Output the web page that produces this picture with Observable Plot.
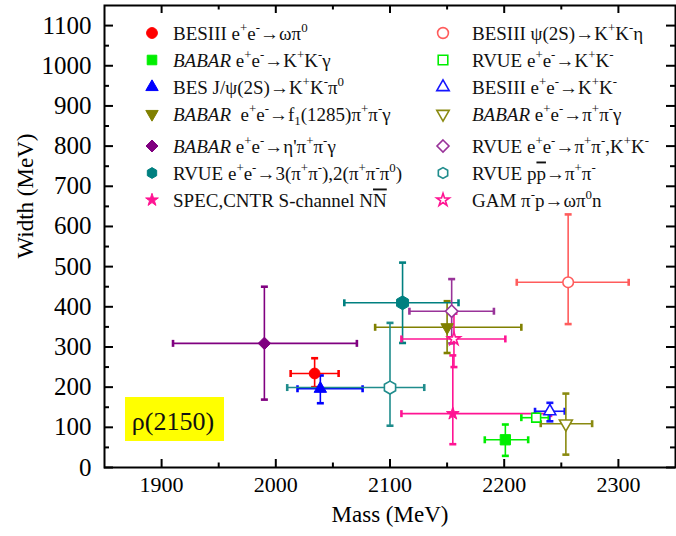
<!DOCTYPE html>
<html><head><meta charset="utf-8">
<script src="https://cdn.jsdelivr.net/npm/d3@7"></script>
<script src="https://cdn.jsdelivr.net/npm/@observablehq/plot@0.6"></script>
<style>
body{margin:0;background:#fff;}
#chart{position:relative;width:676px;height:536px;}
</style>
</head><body><div id="chart"></div>
<script>
// ---- data ----
const labels = [
  "BESIII e^{+}e^{-}→ωπ^{0}",
  "*BABAR* e^{+}e^{-}→K^{+}K^{-}γ",
  "BES J/ψ(2S)→K^{+}K^{-}π^{0}",
  "*BABAR*  e^{+}e^{-}→f_{1}(1285)π^{+}π^{-}γ",
  "*BABAR* e^{+}e^{-}→η'π^{+}π^{-}γ",
  "RVUE e^{+}e^{-}→3(π^{+}π^{-}),2(π^{+}π^{-}π^{0})",
  "SPEC,CNTR S-channel N~N~",
  "BESIII ψ(2S)→K^{+}K^{-}η",
  "RVUE e^{+}e^{-}→K^{+}K^{-}",
  "BESIII e^{+}e^{-}→K^{+}K^{-}",
  "*BABAR* e^{+}e^{-}→π^{+}π^{-}γ",
  "RVUE e^{+}e^{-}→π^{+}π^{-},K^{+}K^{-}",
  "RVUE p~p~→π^{+}π^{-}",
  "GAM π^{-}p→ωπ^{0}n"
];
const mass    = [2034, 2201, 2039, 2150, 1990, 2111, 2155, 2256, 2228, 2240, 2254, 2154, 2100, 2156];
const width   = [ 234,   69,  196,  349,  309,  410,  134,  461,  124,  140,  109,  389,  199,  320];
const massLo  = [2013, 2183, 2019, 2087, 1910, 2060, 2110, 2211, 2215, 2227, 2232, 2117, 2010, 2110];
const massHi  = [2055, 2221, 2076, 2215, 2071, 2160, 2241, 2309, 2239, 2253, 2277, 2191, 2130, 2201];
const widthLo = [ 200,   29,  160,  285,  169,  310,   58,  357,  114,  115,   32,  309,  104,  250];
const widthHi = [ 272,  107,  229,  414,  450,  510,  279,  630,  134,  161,  184,  469,  360,  383];

// styles
const symbols = ["circle","square","triangle","triangle","diamond2","hexagon","star",
                 "circle","square","triangle","triangle","diamond2","hexagon","star"];
const flipped = [false,false,false,true,false,false,false, false,false,false,true,false,false,false];
const filled  = [true,true,true,true,true,true,true, false,false,false,false,false,false,false];
const colors  = ["#ff0000","#00ee00","#0000ff","#808000","#800080","#008080","#ff1493",
                 "#ff5c5c","#00ee00","#1515ff","#8a8a10","#993399","#1f8c8c","#ff1493"];
const radii   = [5.4, 5.8, 4.6, 4.6, 5.6, 6.0, 4.0, 5.3, 5.0, 4.4, 4.8, 5.6, 5.6, 4.0];

const xDomain = [1850, 2350];
const yDomain = [0, 1150];
const xMajor = [1900, 2000, 2100, 2200, 2300];
const xMinor = [1950, 2050, 2150, 2250];
const yMajor = [0, 100, 200, 300, 400, 500, 600, 700, 800, 900, 1000, 1100];
const yMinor = [50, 150, 250, 350, 450, 550, 650, 750, 850, 950, 1050];
const xTitle = "Mass (MeV)";
const yTitle = "Width (MeV)";
const tag = "ρ(2150)";

const serif = "'Liberation Serif','Times New Roman',serif";

// ---- marks ----
const vcap = {draw(ctx){ ctx.moveTo(0,-3.5); ctx.lineTo(0,3.5); }};
const hcap = {draw(ctx){ ctx.moveTo(-3.5,0); ctx.lineTo(3.5,0); }};

const errMarks = [], dotMarks = [];
for (let i = 0; i < labels.length; i++) {
  const d = [{m: mass[i], w: width[i], mlo: massLo[i], mhi: massHi[i], wlo: widthLo[i], whi: widthHi[i]}];
  const c = colors[i];
  errMarks.push(
    Plot.ruleY(d, {y: "w", x1: "mlo", x2: "mhi", stroke: c, strokeWidth: 1.6}),
    Plot.ruleX(d, {x: "m", y1: "wlo", y2: "whi", stroke: c, strokeWidth: 1.6}),
    Plot.dot([[massLo[i], width[i]], [massHi[i], width[i]]], {x: p => p[0], y: p => p[1], symbol: vcap, stroke: c, strokeWidth: 2.6, fill: "none"}),
    Plot.dot([[mass[i], widthLo[i]], [mass[i], widthHi[i]]], {x: p => p[0], y: p => p[1], symbol: hcap, stroke: c, strokeWidth: 2.6, fill: "none"})
  );
  dotMarks.push(
    Plot.dot(d, {x: "m", y: "w", symbol: symbols[i], r: radii[i],
      rotate: flipped[i] ? 180 : 0,
      fill: filled[i] ? c : "white", stroke: c, strokeWidth: filled[i] ? 1 : 1.6})
  );
}

const tickStyle = {stroke: "black", strokeWidth: 2};
const plot = Plot.plot({
  width: 676, height: 536,
  marginLeft: 104, marginRight: 1, marginTop: 5, marginBottom: 69,
  style: {fontFamily: serif, background: "white", overflow: "visible"},
  x: {domain: xDomain, label: null},
  y: {domain: yDomain, label: null},
  marks: [
    ...errMarks,
    ...dotMarks,
    // inward ticks on all four sides
    Plot.ruleX(xMajor, {x: d => d, y1: yDomain[0], y2: yDomain[0], insetBottom: 8, ...tickStyle}),
    Plot.ruleX(xMinor, {x: d => d, y1: yDomain[0], y2: yDomain[0], insetBottom: 4.5, ...tickStyle}),
    Plot.ruleX(xMajor, {x: d => d, y1: yDomain[1], y2: yDomain[1], insetBottom: -8, ...tickStyle}),
    Plot.ruleX(xMinor, {x: d => d, y1: yDomain[1], y2: yDomain[1], insetBottom: -4.5, ...tickStyle}),
    Plot.ruleY(yMajor, {y: d => d, x1: xDomain[0], x2: xDomain[0], insetRight: -9, ...tickStyle}),
    Plot.ruleY(yMinor, {y: d => d, x1: xDomain[0], x2: xDomain[0], insetRight: -5, ...tickStyle}),
    Plot.ruleY(yMajor, {y: d => d, x1: xDomain[1], x2: xDomain[1], insetRight: 9, ...tickStyle}),
    Plot.ruleY(yMinor, {y: d => d, x1: xDomain[1], x2: xDomain[1], insetRight: 5, ...tickStyle}),
    Plot.axisX({ticks: xMajor, tickSize: 0, tickPadding: 9, fontSize: 22, label: null, tickFormat: d => String(d)}),
    Plot.axisY({ticks: yMajor, tickSize: 0, tickPadding: 13, fontSize: 25, label: null, tickFormat: d => String(d)}),
    Plot.frame({stroke: "black", strokeWidth: 2}),
    Plot.text([xTitle], {text: d => d, frameAnchor: "bottom", dy: 54, fontSize: 23}),
    Plot.text([yTitle], {text: d => d, frameAnchor: "left", dx: -79, dy: 22, rotate: -90, fontSize: 23})
  ]
});
document.getElementById("chart").appendChild(plot);

// ---- legend & annotation (drawn into the same svg) ----
const svg = d3.select(plot);
const hexagon = {draw(ctx, size){ const rx = Math.sqrt(size/Math.PI), ry = rx*Math.sqrt(3)/2;
  ctx.moveTo(0,rx); ctx.lineTo(ry,rx/2); ctx.lineTo(ry,-rx/2); ctx.lineTo(0,-rx); ctx.lineTo(-ry,-rx/2); ctx.lineTo(-ry,rx/2); ctx.closePath(); }};
const symMap = {circle: d3.symbolCircle, square: d3.symbolSquare, triangle: d3.symbolTriangle,
                diamond2: d3.symbolDiamond2, hexagon: hexagon, star: d3.symbolStar};

function richText(el, str, fs) {
  const re = /\^\{([^}]*)\}|_\{([^}]*)\}|\*([^*]*)\*|~([^~]*)~|([^\^_*~]+)/g;
  let cur = 0, m;
  while ((m = re.exec(str))) {
    const ts = el.append("tspan");
    let target = 0;
    if (m[1] !== undefined) { target = -0.4*fs; ts.text(m[1]).attr("font-size", fs*0.68); }
    else if (m[2] !== undefined) { target = 0.22*fs; ts.text(m[2]).attr("font-size", fs*0.68); }
    else if (m[3] !== undefined) { ts.text(m[3]).attr("font-style", "italic"); }
    else if (m[4] !== undefined) { ts.text(m[4]).style("text-decoration", "overline"); }
    else { ts.text(m[5]); }
    if (target !== cur) ts.attr("dy", target - cur);
    cur = target;
  }
}

const lg = svg.append("g").attr("font-family", serif).attr("text-anchor", "start");
const fsLeg = 19;
labels.forEach((lab, i) => {
  const col = i < 7 ? 0 : 1, row = i % 7;
  const my = 33 + row*27 + (row >= 4 ? 5 : 0);
  const mx = col ? 443 : 152, tx = col ? 472 : 173;
  const r = symbols[i] === "star" ? 4.0 : symbols[i] === "triangle" ? 4.6 : 5.4;
  lg.append("path")
    .attr("d", d3.symbol(symMap[symbols[i]], Math.PI*r*r)())
    .attr("transform", `translate(${mx},${my}) rotate(${flipped[i] ? 180 : 0})`)
    .attr("fill", filled[i] ? colors[i] : "white")
    .attr("stroke", colors[i]).attr("stroke-width", filled[i] ? 1 : 1.6);
  const t = lg.append("text").attr("x", tx).attr("y", my + 6.5).attr("font-size", fsLeg)
    .attr("text-anchor", "start").style("white-space", "pre").attr("fill", "#111");
  richText(t, lab, fsLeg);
});

svg.append("rect").attr("x", 125).attr("y", 397).attr("width", 99).attr("height", 44).attr("fill", "#ffff00");
svg.append("text").attr("x", 173).attr("y", 430).attr("text-anchor", "middle")
  .attr("font-size", 26).attr("font-family", serif).attr("fill", "#111").text(tag);
</script>
</body></html>
